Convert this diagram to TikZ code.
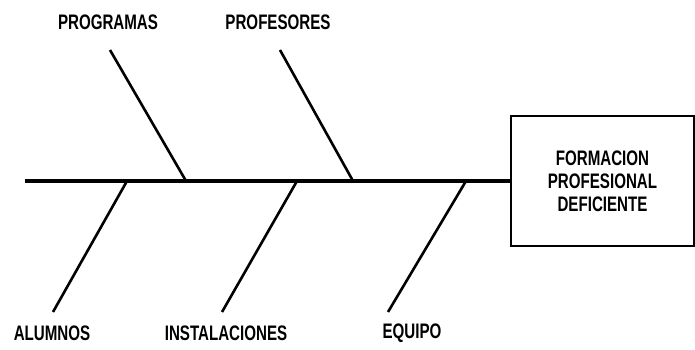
\documentclass[tikz,border=0pt]{standalone}
\usepackage{fontspec}
\setmainfont{Liberation Sans}[FakeStretch=0.72]
\usepackage{tikz}
\usetikzlibrary{positioning,calc}

\begin{document}
\begin{tikzpicture}[x=1pt, y=1pt, font=\fontsize{21}{23}\selectfont\bfseries]
        \useasboundingbox (0,0) rectangle (695,350);
        % espina principal y efecto
        \coordinate (tail) at (25,169);
        \node[draw, line width=2.6pt, minimum width=183pt, minimum height=130pt, align=center,
              font=\fontsize{21}{23}\selectfont\bfseries] (effect) at (602.5,169)
              {FORMACION\\PROFESIONAL\\DEFICIENTE};
        \draw[line width=3.6pt] (tail) -- (effect.west);
        % causas de arriba
        \foreach \nm/\txt/\lx/\tx/\bx in {prog/PROGRAMAS/108/110/186, prof/PROFESORES/278/280/353} {
          \node (\nm) at (\lx,328) {\txt};
          \coordinate (\nm top) at (\tx,300);
          \coordinate (\nm foot) at (\bx,169);
          \draw[line width=2.6pt] (\nm top) -- (\nm foot);
        }
        % causas de abajo
        \foreach \nm/\txt/\lx/\tx/\bx in {alum/ALUMNOS/52/127/53, inst/INSTALACIONES/226/297/222, equi/EQUIPO/412/466/388} {
          \node (\nm) at (\lx,17) {\txt};
          \coordinate (\nm foot) at (\tx,169);
          \coordinate (\nm end) at (\bx,38);
          \draw[line width=2.6pt] (\nm foot) -- (\nm end);
        }
      \end{tikzpicture}
\end{document}
